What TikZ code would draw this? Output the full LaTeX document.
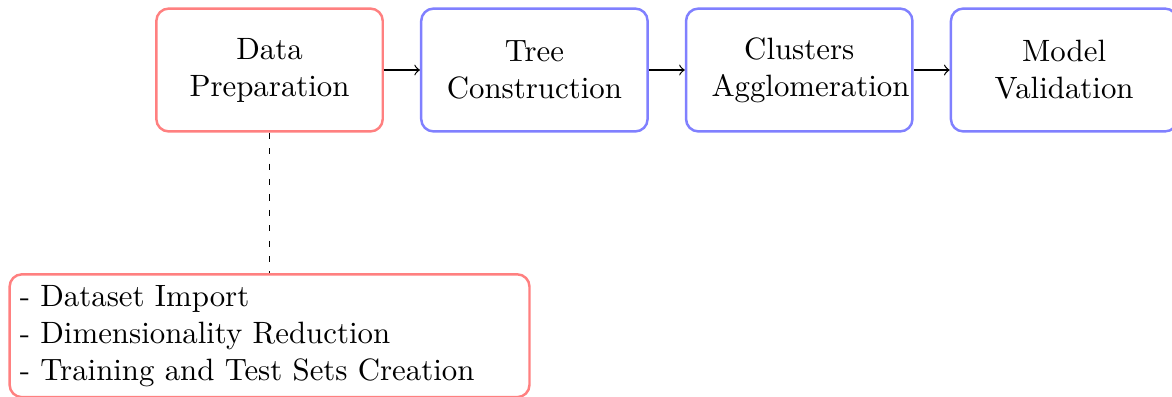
\documentclass[tikz,border=0pt]{standalone}
\usetikzlibrary{positioning}
\begin{document}
\begin{tikzpicture}[node distance=0.41cm,
  stage/.style={draw=blue!50, thick, rounded corners, minimum width=2.58cm,
    minimum height=1.4cm, text width=2cm, align=center},
  prepstage/.style={stage, draw=red!50},
  tasklist/.style={draw=red!50, thick, rounded corners, minimum height=1.4cm,
    text width=5.69cm, align=left}]
\useasboundingbox (-87.4pt,22.7pt) rectangle (292.6pt,-105.7pt);
%%% the four stages of the pipeline
\node[prepstage] (prep) {Data\\Preparation};
\node[stage, right=of prep] (tree) {Tree\\Construction};
\node[stage, right=of tree] (agglo) {Clusters\\Agglomeration};
\node[stage, right=of agglo] (valid) {Model\\Validation};
%%% details of the preparation step
\node[tasklist, below=1.6cm of prep] (tasks)
{- Dataset Import\\- Dimensionality Reduction\\- Training and Test Sets Creation};
\draw[->] (prep) -- (tree);
\draw[->] (tree) -- (agglo);
\draw[->] (agglo) -- (valid);
\draw[dash pattern=on 2pt off 3pt] (prep) -- (tasks);
\end{tikzpicture}
\end{document}
